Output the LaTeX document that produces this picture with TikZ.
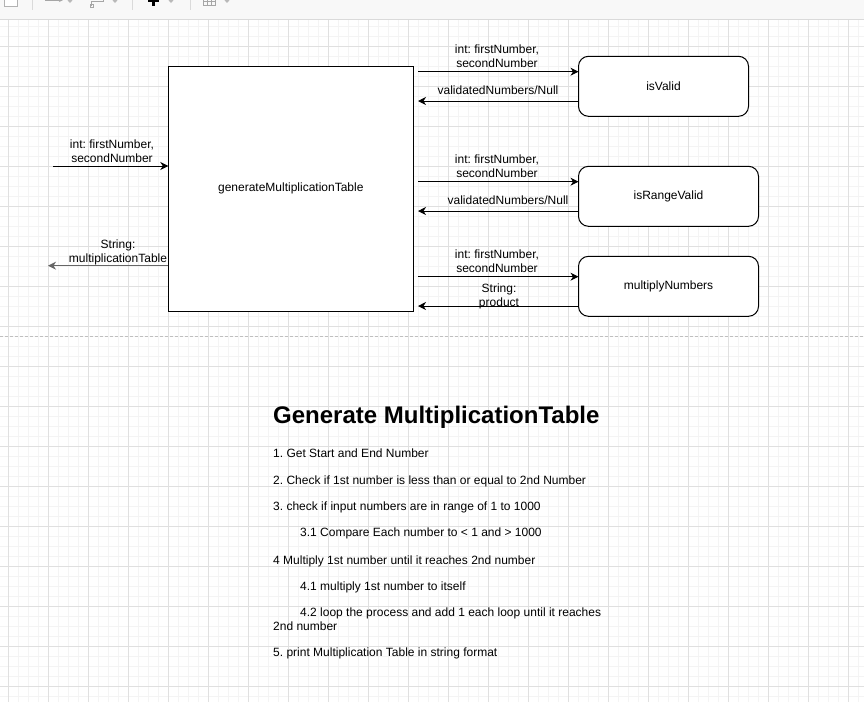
\documentclass[tikz,border=0pt]{standalone}
\usepackage{fontspec}
\setmainfont{Liberation Sans}
\usetikzlibrary{arrows.meta}
\frenchspacing
\definecolor{minorgrid}{HTML}{F4F4F4}
\definecolor{majorgrid}{HTML}{E0E0E0}
\definecolor{toolbg}{HTML}{F8F8F8}
\definecolor{toolline}{HTML}{DADADA}
\definecolor{outgray}{HTML}{666666}
\tikzset{
  box/.style={draw=black, line width=1pt, fill=white, inner sep=0pt, outer sep=0pt,
    font=\fontsize{12pt}{14pt}\selectfont},
  rbox/.style={box, rounded corners=10pt},
  arr/.style={line width=1pt, -{Stealth[length=8pt,width=8pt,inset=2.5pt]}},
  lbl/.style={anchor=base, inner sep=0pt, font=\fontsize{12pt}{14pt}\selectfont},
  txt/.style={anchor=base west, inner sep=0pt, font=\fontsize{12pt}{14pt}\selectfont},
}
\begin{document}
\begin{tikzpicture}[x=1pt,y=-1pt]
\useasboundingbox (0,0) rectangle (864,702);
\fill[white] (0,0) rectangle (864,702);
% grid
\foreach \x in {8,18,...,864} \draw[minorgrid, line width=1pt] (\x,20) -- (\x,702);
\foreach \y in {26,36,...,702} \draw[minorgrid, line width=1pt] (0,\y) -- (864,\y);
\foreach \x in {8,48,...,864} \draw[majorgrid, line width=1pt] (\x,20) -- (\x,702);
\foreach \y in {46,86,...,702} \draw[majorgrid, line width=1pt] (0,\y) -- (864,\y);
% toolbar
\fill[toolbg] (0,0) rectangle (864,19);
\draw[toolline, line width=1pt] (0,19.5) -- (864,19.5);
\foreach \x in {32,132,190} \draw[toolline, line width=1pt] (\x,0) -- (\x,10);
\draw[gray!60, line width=1pt, fill=white] (4,-4) rectangle (17,6);
\draw[gray!70, line width=1pt, -{Stealth[length=4pt,width=4pt]}] (45,0) -- (63,0);
\draw[gray!70, line width=1pt] (91,6) -- (91,1) -- (103,1) -- (103,-3);
\draw[gray!70, line width=0.7pt] (90,4.5) rectangle (93,7.5);
\fill[black] (148,-1) rectangle (159,2);
\fill[black] (152,-3) rectangle (155,6);
\draw[gray!70, line width=0.8pt] (203,-2) rectangle (215,5);
\draw[gray!70, line width=0.8pt] (203,1) -- (215,1) (207,-2) -- (207,5) (211,-2) -- (211,5);
\foreach \x in {70,115,171,227} \fill[gray!55] (\x-3.5,-1) -- (\x+3.5,-1) -- (\x,3) -- cycle;
% page break
\draw[black!25, line width=1pt, dash pattern=on 3pt off 2pt] (0,336.5) -- (864,336.5);

% boxes
\node[box, minimum width=245pt, minimum height=245pt] (main) at (290.8,188.7) {generateMultiplicationTable};
\node[rbox, minimum width=170pt, minimum height=60pt] (valid) at (663.5,86.3) {isValid};
\node[rbox, minimum width=180pt, minimum height=60pt] (range) at (668.5,196.3) {isRangeValid};
\node[rbox, minimum width=180pt, minimum height=60pt] (mult) at (668.5,286.3) {multiplyNumbers};

% connector end points
\coordinate (s1) at (418,71.7);
\coordinate (e1) at (418,101);
\coordinate (s2) at (418,181.7);
\coordinate (e2) at (418,211);
\coordinate (s3) at (418,276.7);
\coordinate (e3) at (418,306);
\coordinate (inp) at (53,166);
\coordinate (outp) at (48,265.7);

\draw[arr] (s1) -- (valid.west |- s1);
\draw[arr] (valid.west |- e1) -- (e1);
\draw[arr] (s2) -- (range.west |- s2);
\draw[arr] (range.west |- e2) -- (e2);
\draw[arr] (s3) -- (mult.west |- s3);
\draw[arr] (mult.west |- e3) -- (e3);
\draw[arr] (inp) -- (main.west |- inp);
\draw[arr, outgray] (main.west |- outp) -- (outp);

% labels
\node[lbl] (l1a) at (497,53.3) {int: firstNumber,};
\node[lbl] (l1b) at (497,67.7) {secondNumber};
\node[lbl] (l1c) at (498,94.3) {validatedNumbers/Null};
\node[lbl] (l2a) at (497,163.3) {int: firstNumber,};
\node[lbl] (l2b) at (497,177.7) {secondNumber};
\node[lbl] (l2c) at (508,204.3) {validatedNumbers/Null};
\node[lbl] (l3a) at (497,258.3) {int: firstNumber,};
\node[lbl] (l3b) at (497,272.7) {secondNumber};
\node[lbl] (l3c) at (499,292.3) {String:};
\node[lbl] (l3d) at (499,306.7) {product};
\node[lbl] (l0a) at (112,148.3) {int: firstNumber,};
\node[lbl] (l0b) at (112,162.7) {secondNumber};
\node[lbl] (l0c) at (118,248.3) {String:};
\node[lbl] (l0d) at (118,262.3) {multiplicationTable};

% text block
\node[anchor=base west, inner sep=0pt, font=\fontsize{24pt}{28pt}\selectfont\bfseries] (title) at (273,423.3) {Generate MultiplicationTable};
\node[txt] (t1) at (273,457.7) {1. Get Start and End Number};
\node[txt] (t2) at (273,484) {2. Check if 1st number is less than or equal to 2nd Number};
\node[txt] (t3) at (273,510.7) {3. check if input numbers are in range of 1 to 1000};
\node[txt] (t31) at (300,536.7) {3.1 Compare Each number to < 1 and > 1000};
\node[txt] (t4) at (273,564) {4 Multiply 1st number until it reaches 2nd number};
\node[txt] (t41) at (300,590) {4.1 multiply 1st number to itself};
\node[txt] (t42) at (300,616) {4.2 loop the process and add 1 each loop until it reaches};
\node[txt] (t42b) at (273,630.7) {2nd number};
\node[txt] (t5) at (273,656) {5. print Multiplication Table in string format};
\end{tikzpicture}
\end{document}
